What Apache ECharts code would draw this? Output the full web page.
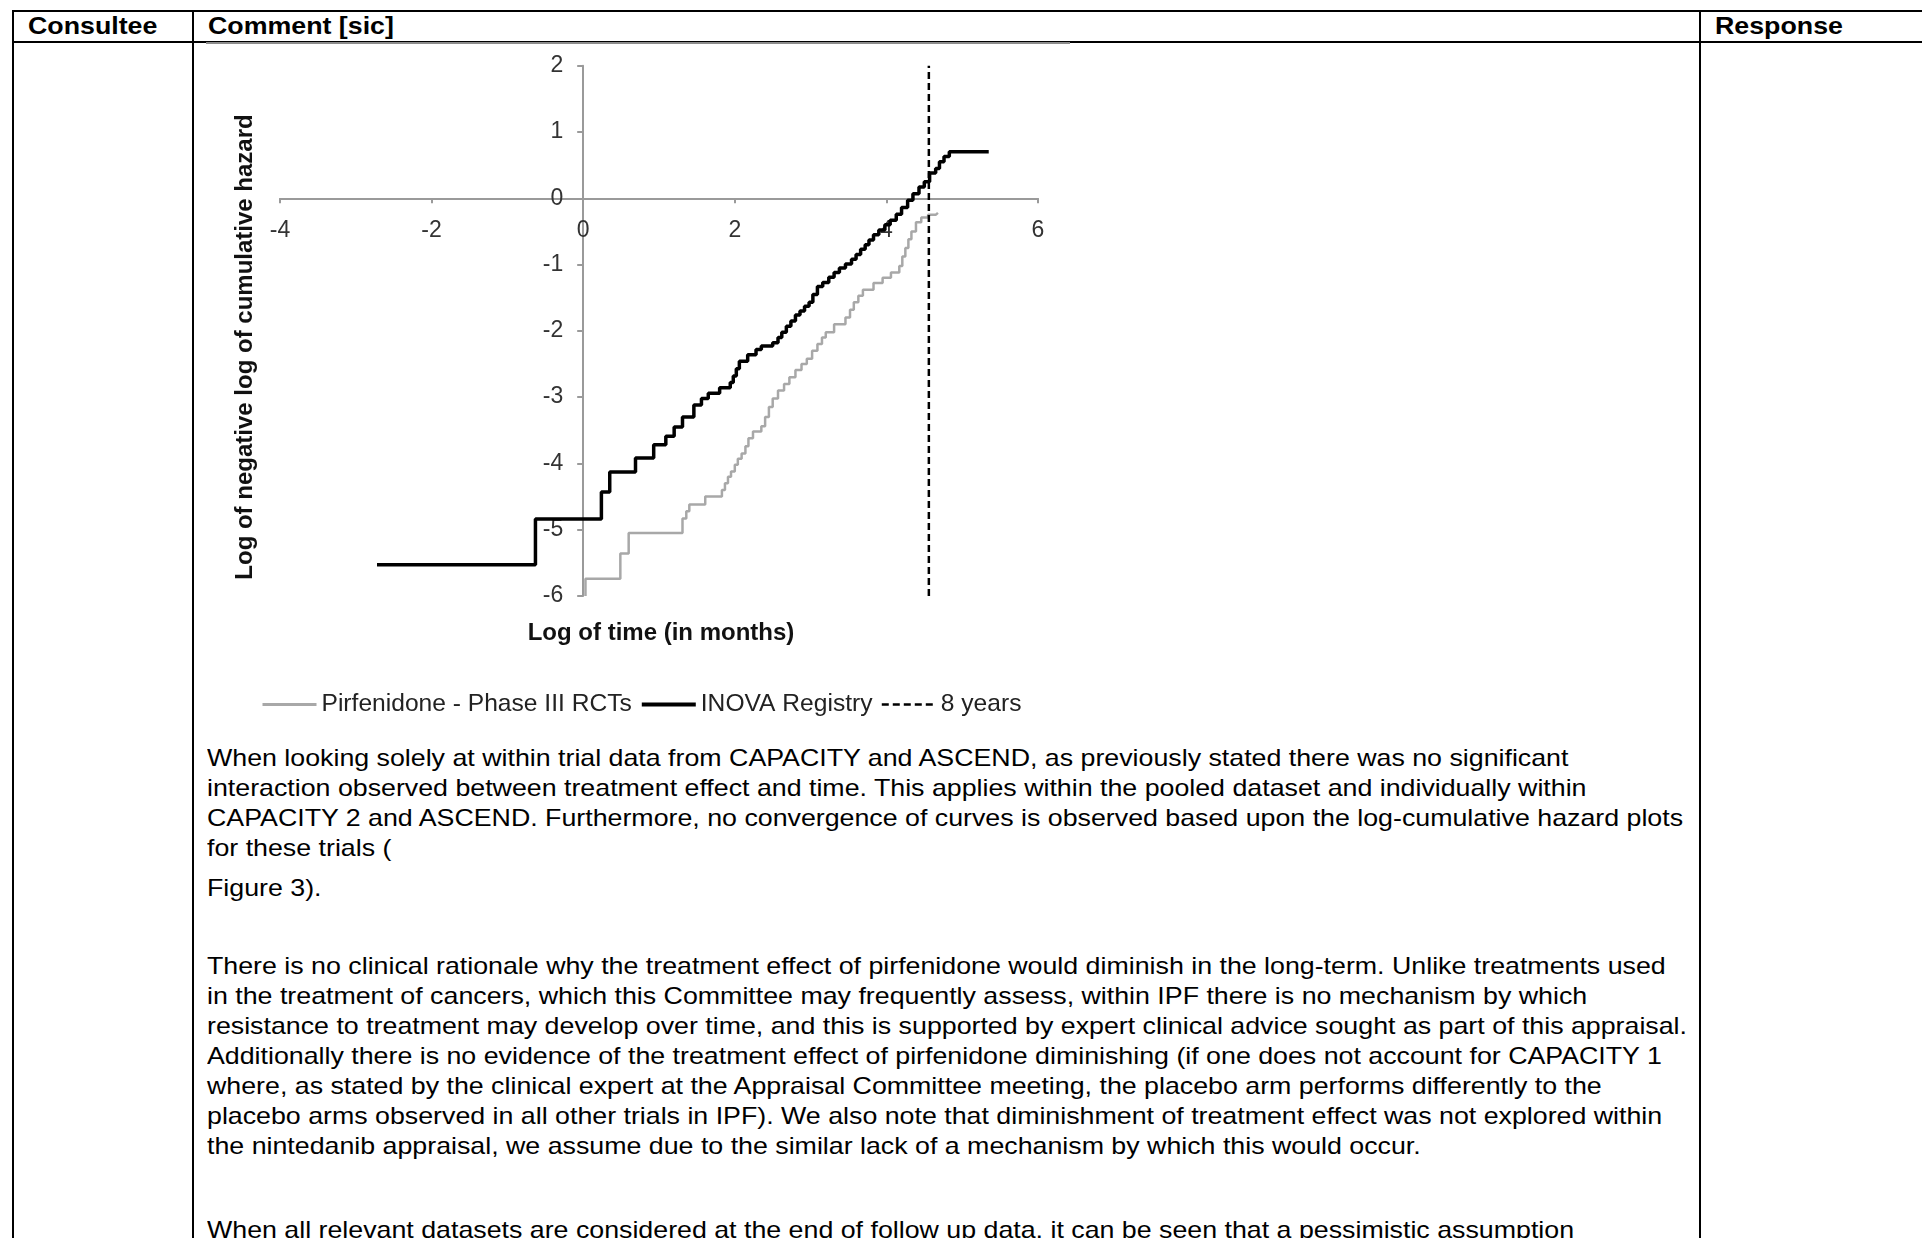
<!DOCTYPE html>
<html><head><meta charset="utf-8">
<script src="https://cdn.jsdelivr.net/npm/echarts@6/dist/echarts.min.js"></script>
<style>
html,body{margin:0;padding:0;background:#fff;}
body{width:1922px;height:1238px;overflow:hidden;position:relative;font-family:"Liberation Sans",Arial,sans-serif;color:#000;}
.hl{position:absolute;background:#000;}
.t{position:absolute;white-space:nowrap;font-size:24px;line-height:30px;transform:scaleX(1.115);transform-origin:0 0;}
.h{font-weight:bold;}
#chart{position:absolute;left:0;top:0;width:1922px;height:1238px;z-index:2;}
</style></head><body>
<div class="hl" style="left:12px;top:10px;width:1910px;height:2px"></div>
<div class="hl" style="left:12px;top:41px;width:1910px;height:2px"></div>
<div class="hl" style="left:12px;top:10px;width:2px;height:1228px"></div>
<div class="hl" style="left:192px;top:10px;width:2px;height:1228px"></div>
<div class="hl" style="left:1699px;top:10px;width:2px;height:1228px"></div>
<div style="position:absolute;left:206px;top:42px;width:864px;height:2px;background:#8c8c8c"></div>
<div class="t h" style="left:28px;top:11px">Consultee</div>
<div class="t h" style="left:208px;top:11px">Comment [sic]</div>
<div class="t h" style="left:1715px;top:11px">Response</div>

<div class="t" style="left:207px;top:743px">When looking solely at within trial data from CAPACITY and ASCEND, as previously stated there was no significant</div>
<div class="t" style="left:207px;top:773px">interaction observed between treatment effect and time. This applies within the pooled dataset and individually within</div>
<div class="t" style="left:207px;top:803px">CAPACITY 2 and ASCEND. Furthermore, no convergence of curves is observed based upon the log-cumulative hazard plots</div>
<div class="t" style="left:207px;top:833px">for these trials (</div>
<div class="t" style="left:207px;top:873px">Figure 3).</div>

<div class="t" style="left:207px;top:951px">There is no clinical rationale why the treatment effect of pirfenidone would diminish in the long-term. Unlike treatments used</div>
<div class="t" style="left:207px;top:981px">in the treatment of cancers, which this Committee may frequently assess, within IPF there is no mechanism by which</div>
<div class="t" style="left:207px;top:1011px">resistance to treatment may develop over time, and this is supported by expert clinical advice sought as part of this appraisal.</div>
<div class="t" style="left:207px;top:1041px">Additionally there is no evidence of the treatment effect of pirfenidone diminishing (if one does not account for CAPACITY 1</div>
<div class="t" style="left:207px;top:1071px">where, as stated by the clinical expert at the Appraisal Committee meeting, the placebo arm performs differently to the</div>
<div class="t" style="left:207px;top:1101px">placebo arms observed in all other trials in IPF). We also note that diminishment of treatment effect was not explored within</div>
<div class="t" style="left:207px;top:1131px">the nintedanib appraisal, we assume due to the similar lack of a mechanism by which this would occur.</div>

<div class="t" style="left:207px;top:1215px">When all relevant datasets are considered at the end of follow up data, it can be seen that a pessimistic assumption</div>

<div id="chart"></div>
<script>
// Data (log of time in months vs log(-log S))
const seriesNames = ['Pirfenidone - Phase III RCTs', 'INOVA Registry', '8 years'];
const xTickInterval = 2;
const yTickInterval = 1;

const inovaX = [-2.72,-0.63,0.24,0.35,0.69,0.93,1.09,1.20,1.31,1.46,1.56,1.65,1.80,1.94,1.98,2.02,2.06,2.17,2.28,2.35,2.50,2.57,2.62,2.68,2.74,2.80,2.86,2.92,2.98,3.03,3.09,3.16,3.24,3.31,3.38,3.46,3.54,3.60,3.66,3.72,3.77,3.83,3.90,3.98,4.05,4.13,4.20,4.28,4.35,4.43,4.50,4.57,4.65,4.70,4.76,4.83,5.35];
const inovaY = [-5.53,-4.84,-4.43,-4.13,-3.92,-3.72,-3.59,-3.45,-3.30,-3.12,-3.02,-2.94,-2.86,-2.78,-2.68,-2.57,-2.46,-2.36,-2.28,-2.23,-2.18,-2.10,-2.02,-1.93,-1.85,-1.76,-1.70,-1.63,-1.57,-1.45,-1.33,-1.27,-1.19,-1.12,-1.05,-0.99,-0.92,-0.85,-0.77,-0.70,-0.63,-0.55,-0.48,-0.40,-0.33,-0.24,-0.14,-0.03,0.07,0.17,0.25,0.38,0.45,0.55,0.63,0.70,0.70];

const pirfX = [0.03,0.03,0.49,0.60,1.31,1.36,1.40,1.61,1.83,1.87,1.91,1.95,2.00,2.04,2.09,2.14,2.18,2.24,2.35,2.40,2.45,2.50,2.57,2.65,2.72,2.80,2.88,2.95,3.02,3.09,3.15,3.20,3.31,3.46,3.52,3.57,3.63,3.69,3.83,3.95,4.06,4.17,4.21,4.25,4.29,4.33,4.39,4.46,4.55,4.65,4.68];
const pirfY = [-6.0,-5.74,-5.36,-5.05,-4.83,-4.72,-4.62,-4.50,-4.40,-4.30,-4.20,-4.12,-4.02,-3.93,-3.85,-3.74,-3.62,-3.52,-3.44,-3.30,-3.15,-3.02,-2.90,-2.80,-2.70,-2.59,-2.50,-2.42,-2.30,-2.20,-2.10,-2.02,-1.90,-1.80,-1.68,-1.57,-1.47,-1.38,-1.28,-1.20,-1.12,-1.02,-0.88,-0.75,-0.62,-0.50,-0.36,-0.29,-0.25,-0.22,-0.22];

const eightYearsX = [4.56, 4.56];
const eightYearsY = [-6, 2];

const xAxisName = 'Log of time (in months)';
const yAxisName = 'Log of negative log of cumulative hazard';

function zip(xs, ys) { return xs.map((x, i) => [x, ys[i]]); }

const FONT = '"Liberation Sans", Arial, sans-serif';
const AXIS_GRAY = '#9a9a9a';

const chart = echarts.init(document.getElementById('chart'), null, {renderer: 'canvas'});
chart.setOption({
  animation: false,
  backgroundColor: 'transparent',
  grid: {left: 280, top: 65.7, width: 758, height: 530.3, containLabel: false},
  xAxis: {
    type: 'value', min: -4, max: 6, interval: xTickInterval,
    position: 'bottom', offset: -397.7,
    axisLine: {show: true, onZero: false, lineStyle: {color: AXIS_GRAY, width: 2}},
    axisTick: {show: true, length: 5, lineStyle: {color: AXIS_GRAY, width: 2}},
    axisLabel: {fontSize: 23, color: '#333', fontFamily: FONT, margin: 21},
    splitLine: {show: false}
  },
  yAxis: {
    type: 'value', min: -6, max: 2, interval: yTickInterval,
    position: 'left', offset: -303.2,
    axisLine: {show: true, onZero: false, lineStyle: {color: AXIS_GRAY, width: 2}},
    axisTick: {show: true, length: 6, lineStyle: {color: AXIS_GRAY, width: 2}},
    axisLabel: {fontSize: 23, color: '#333', fontFamily: FONT, margin: 20},
    splitLine: {show: false}
  },
  legend: {
    left: 261, top: 692, padding: 0, itemWidth: 54, itemHeight: 14, itemGap: 8,
    itemStyle: {opacity: 0},
    textStyle: {fontSize: 24.6, color: '#222', fontFamily: FONT},
    data: [
      {name: seriesNames[0], lineStyle: {width: 3}},
      {name: seriesNames[1], lineStyle: {width: 4}},
      {name: seriesNames[2], lineStyle: {width: 2.5}}
    ]
  },
  graphic: [
    {type: 'text', x: 661, y: 633, z: 10,
     style: {text: xAxisName, font: 'bold 24px ' + FONT, fill: '#111', align: 'center', verticalAlign: 'middle', textAlign: 'center', textVerticalAlign: 'middle'}},
    {type: 'text', x: 245, y: 347, rotation: Math.PI / 2, z: 10,
     style: {text: yAxisName, font: 'bold 24px ' + FONT, fill: '#111', align: 'center', verticalAlign: 'middle', textAlign: 'center', textVerticalAlign: 'middle'}}
  ],
  series: [
    {name: seriesNames[0], type: 'line', step: 'end', symbol: 'none', data: zip(pirfX, pirfY),
     lineStyle: {color: '#a8a8a8', width: 2.5}, itemStyle: {color: '#a8a8a8'}, z: 2},
    {name: seriesNames[1], type: 'line', step: 'end', symbol: 'none', data: zip(inovaX, inovaY),
     lineStyle: {color: '#000', width: 3.5}, itemStyle: {color: '#000'}, z: 3},
    {name: seriesNames[2], type: 'line', symbol: 'none', data: zip(eightYearsX, eightYearsY),
     lineStyle: {color: '#000', width: 2.5, type: [7, 4]}, itemStyle: {color: '#000'}, z: 4}
  ]
});
</script>
</body></html>
